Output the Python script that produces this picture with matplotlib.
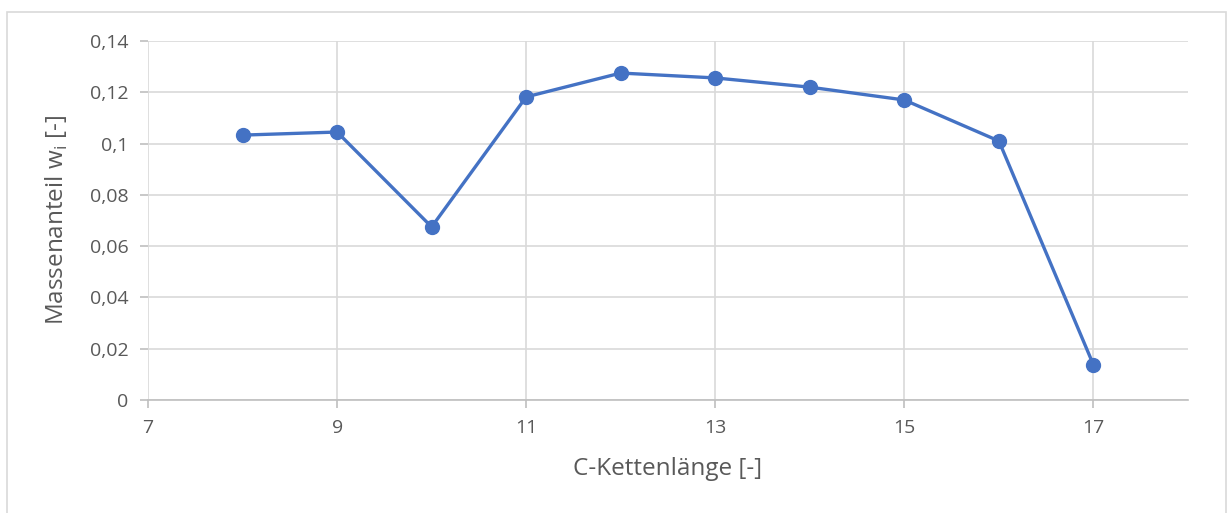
import matplotlib.pyplot as plt
from matplotlib.ticker import FuncFormatter, MultipleLocator, FixedLocator
from matplotlib.patches import Rectangle

# Data
chain_length = [8, 9, 10, 11, 12, 13, 14, 15, 16, 17]
mass_fraction = [0.1033, 0.1045, 0.0675, 0.1182, 0.1275, 0.1256, 0.1220, 0.1170, 0.1010, 0.0137]
x_ticks = [7, 9, 11, 13, 15, 17]

blue = '#4472C4'
grey_text = '#595959'
grid_col = '#D9D9D9'

plt.rcParams['font.family'] = ['Open Sans', 'DejaVu Sans']

fig = plt.figure(figsize=(12.29, 5.13), dpi=100)
ax = fig.add_axes([148 / 1229, 1 - 400 / 513, (1188 - 148) / 1229, (400 - 41) / 513])

# outer chart border like Excel
fig.patches.append(Rectangle((7 / 1229, -0.01), 1219 / 1229, 1 - 12 / 513 + 0.01,
                             transform=fig.transFigure, fill=False,
                             edgecolor='#D9D9D9', linewidth=1.2))

ax.plot(chain_length, mass_fraction, color=blue, linewidth=2.4,
        marker='o', markersize=10, markerfacecolor=blue, markeredgecolor=blue, zorder=3)

ax.set_xlim(7, 18)
ax.set_ylim(0, 0.14)
ax.xaxis.set_major_locator(FixedLocator(x_ticks))
ax.yaxis.set_major_locator(MultipleLocator(0.02))

def comma_fmt(v, pos):
    s = ('%.2f' % v).rstrip('0').rstrip('.')
    return s.replace('.', ',')

ax.yaxis.set_major_formatter(FuncFormatter(comma_fmt))
ax.xaxis.set_major_formatter(FuncFormatter(lambda v, p: '%d' % v))

ax.grid(True, color=grid_col, linewidth=1.2)
ax.set_axisbelow(True)
for side in ['top', 'right', 'left']:
    ax.spines[side].set_visible(False)
ax.spines['bottom'].set_color('#BFBFBF')
ax.spines['bottom'].set_linewidth(1.2)

ax.tick_params(axis='both', colors='#BFBFBF', labelcolor=grey_text, labelsize=14, length=6, width=1.2)
ax.tick_params(axis='y', pad=8)
ax.tick_params(axis='x', pad=8)

ax.set_xlabel('C-Kettenlänge [-]', fontsize=17.5, color=grey_text, labelpad=14)
ax.set_ylabel('Massenanteil w$_\\mathregular{i}$ [-]', fontsize=17.5, color=grey_text, labelpad=14)

fig.savefig('out.png', dpi=100)
